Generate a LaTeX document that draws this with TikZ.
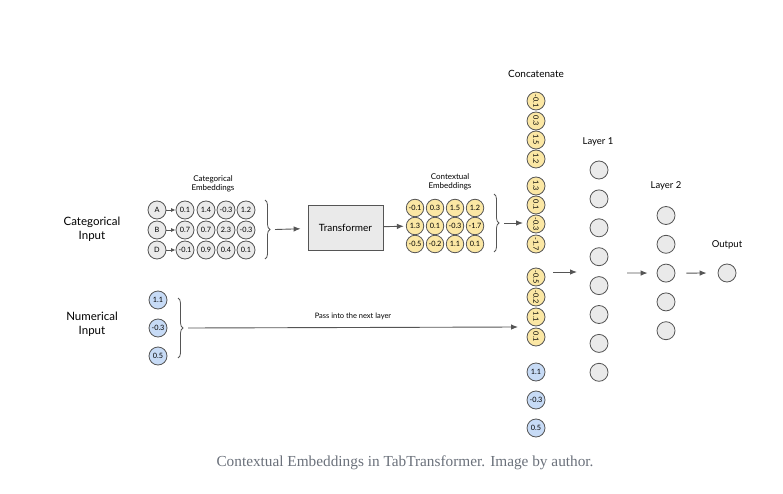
\documentclass[tikz,border=0pt]{standalone}
\usepackage{fontspec}
\setmainfont{Lato}
\newfontfamily\capfont{Liberation Serif}
\usepackage{xcolor}
\usetikzlibrary{shapes,arrows,arrows.meta,positioning,decorations.pathreplacing}

\definecolor{lineGray}{HTML}{555555}
\definecolor{cellGray}{HTML}{EAEAEA}
\definecolor{cellYellow}{HTML}{FBE7A4}
\definecolor{cellBlue}{HTML}{C7DBF6}
\definecolor{capGray}{HTML}{6A707A}

\begin{document}
\begin{tikzpicture}[
    x=1pt, y=-1pt,
    cell/.style={circle, draw=lineGray, line width=0.8pt, minimum size=18pt, inner sep=0pt, font=\fontsize{7.3}{8}\selectfont},
    gcell/.style={cell, fill=cellGray},
    ycell/.style={cell, fill=cellYellow},
    bcell/.style={cell, fill=cellBlue},
    vcell/.style={ycell, rotate=-90},
    neuron/.style={circle, draw=lineGray, line width=0.8pt, fill=cellGray, minimum size=18pt, inner sep=0pt},
    title/.style={align=center, font=\fontsize{8}{9.5}\selectfont},
    bigtitle/.style={align=center, font=\fontsize{11.5}{14}\selectfont},
    box/.style={rectangle, draw=lineGray, line width=0.8pt, fill=cellGray, minimum width=75pt, minimum height=45pt, font=\fontsize{10}{12}\selectfont},
    arrow/.style={-{Latex[length=7pt, width=5.5pt]}, line width=0.9pt, draw=lineGray},
    curly/.style={decorate, decoration={brace, amplitude=5pt}, line width=0.8pt, draw=lineGray}
]
    \useasboundingbox (0,0) rectangle (783,494);

    % categorical side
    \node[bigtitle] (catin) at (92,229) {Categorical\\Input};
    \node[title] (catlbl) at (213,184) {Categorical\\Embeddings};
    \foreach \r/\letter/\a/\b/\c/\d [count=\i] in {210/A/0.1/1.4/-0.3/1.2, 230/B/0.7/0.7/2.3/-0.3, 250/D/-0.1/0.9/0.4/0.1} {
        \node[gcell] (cat\i) at (157,\r) {\letter};
        \node[gcell] (emb\i a) at (185,\r) {\a};
        \node[gcell] (emb\i b) at (206,\r) {\b};
        \node[gcell] (emb\i c) at (226,\r) {\c};
        \node[gcell] (emb\i d) at (246,\r) {\d};
        \draw[arrow, -{Latex[length=4.5pt, width=4pt]}] (cat\i) -- (emb\i a);
    }
    \draw[curly] (265,200) -- (265,259) coordinate[midway, xshift=10pt] (catbrace);

    \node[box] (tf) at (345.5,227.5) {Transformer};
    \draw[arrow, shorten >=7pt] (catbrace) -- (tf);

    % contextual embeddings
    \node[title] (ctxlbl) at (450,182) {Contextual\\Embeddings};
    \foreach \r/\a/\b/\c/\d [count=\i] in {208/-0.1/0.3/1.5/1.2, 226/1.3/0.1/-0.3/-1.7, 244/-0.5/-0.2/1.1/0.1} {
        \node[ycell, minimum size=17.5pt] (ctx\i a) at (415,\r) {\a};
        \node[ycell, minimum size=17.5pt] (ctx\i b) at (435,\r) {\b};
        \node[ycell, minimum size=17.5pt] (ctx\i c) at (455,\r) {\c};
        \node[ycell, minimum size=17.5pt] (ctx\i d) at (475,\r) {\d};
    }
    \draw[arrow, shorten >=2pt] (tf) -- (ctx2a);
    \draw[curly] (494,194) -- (494,252) coordinate[midway, xshift=10pt] (ctxbrace);

    % concatenated column
    \node[font=\fontsize{10}{12}\selectfont] (concat) at (536,74) {Concatenate};
    \foreach \r/\v [count=\i] in {101/-0.1, 121/0.3, 140/1.5, 159/1.2, 186/1.3, 205/0.1, 224/-0.3, 244/-1.7, 277/-0.5, 297/-0.2, 317/1.1, 337/0.1} {
        \node[vcell] (col\i) at (536,\r) {\v};
    }
    \foreach \r/\v [count=\i] in {372/1.1, 400/-0.3, 428/0.5} {
        \node[bcell] (colnum\i) at (536,\r) {\v};
    }
    \coordinate (ctxend) at (523,223);
    \draw[arrow] (ctxbrace) -- (ctxend);

    % numerical side
    \node[bigtitle] (numin) at (92,324) {Numerical\\Input};
    \foreach \r/\v [count=\i] in {300/1.1, 328/-0.3, 356/0.5} {
        \node[bcell] (num\i) at (158,\r) {\v};
    }
    \draw[curly] (178,298) -- (178,358) coordinate[midway, xshift=10pt] (numbrace);
    \coordinate (numend) at (518,327);
    \draw[arrow] (numbrace) -- node[above=4pt, font=\fontsize{7.5}{9}\selectfont] {Pass into the next layer} (numend);

    % dense layers
    \node[font=\fontsize{9.5}{11}\selectfont] (l1lbl) at (598,142) {Layer 1};
    \foreach \i in {1,...,8} {
        \node[neuron] (h\i) at (599,{170+28.9*(\i-1)}) {};
    }
    \node[font=\fontsize{9.5}{11}\selectfont] (l2lbl) at (666,186) {Layer 2};
    \foreach \i in {1,...,5} {
        \node[neuron] (g\i) at (666,{215.5+28.8*(\i-1)}) {};
    }
    \node[font=\fontsize{9.5}{11}\selectfont] (outlbl) at (727,245) {Output};
    \node[neuron] (out) at (727,273) {};

    \coordinate (colout) at (553,272);
    \coordinate (hin) at (577,272);
    \draw[arrow] (colout) -- (hin);
    \coordinate (hout) at (627,273);
    \draw[arrow, shorten >=9pt] (hout) -- (g3);
    \draw[arrow, shorten <=11pt, shorten >=11pt] (g3) -- (out);

    % caption
    \node[font=\capfont\fontsize{15.3}{17}\selectfont, text=capGray] (caption) at (405,463) {Contextual Embeddings in TabTransformer. Image by author.};
\end{tikzpicture}
\end{document}
